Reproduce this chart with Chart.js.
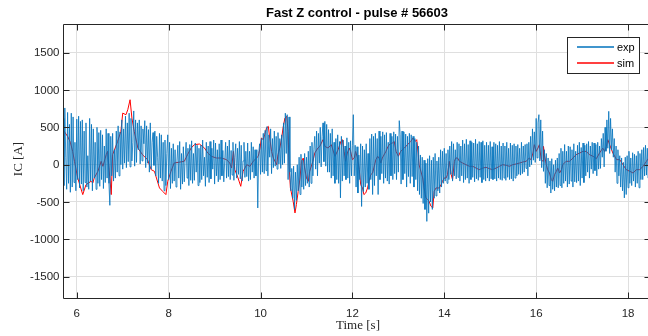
<!DOCTYPE html>
<html>
<head>
<meta charset="utf-8">
<script src="https://cdn.jsdelivr.net/npm/chart.js@4.4.1/dist/chart.umd.min.js"></script>
<style>
  html, body { margin: 0; padding: 0; background: #fff; overflow: hidden; width: 648px; height: 336px; }
  canvas { display: block; }
</style>
</head>
<body>
<canvas id="c" width="651" height="336"></canvas>
<script>
// Texts
const chartTitle = 'Fast Z control - pulse # 56603';
const xAxisTitle = 'Time [s]';
const yAxisTitle = 'IC [A]';
const seriesNames = ['exp', 'sim'];

// Tick values
const xTicks = [6, 8, 10, 12, 14, 16, 18];
const yTicks = [-1500, -1000, -500, 0, 500, 1000, 1500];

// Measured coil current, sampled every 20 ms from t = 5.70 s (one row = 0.2 s)
const expStart = 5.70;
const expStep = 0.02;
const expValues = [
  620, -280, 760, 100, -330, 700, -250, 540, -370, 690,
  -300, 640, -240, 300, -350, 610, -200, 650, -310, 580,
  -260, 600, -350, 450, -240, 560, -300, 120, -330, 620,
  -220, 540, -350, 480, -180, 300, -330, 500, -250, 430,
  -290, 460, -200, 400, -320, 250, -240, 480, -180, 420,
  -250, -545, 380, -150, 420, -220, 200, -180, 450, -100,
  520, -150, 440, 0, 600, -60, 480, 20, 650, -40,
  560, 40, 690, -30, 620, 50, 300, 720, -20, 600,
  30, 560, 200, 600, 10, 520, 50, 480, 280, 590,
  -40, 520, 20, 470, -100, 560, -60, 300, 430, -10,
  450, -150, 380, 100, -250, 420, -180, 400, -220, 300,
  -350, 330, -280, 150, 400, -200, 300, -320, 220, -250,
  280, -220, 200, -300, 50, 260, -180, 310, -330, 150,
  -260, 240, -230, 100, 300, -180, 220, -280, 270, -210,
  320, -250, 150, -210, 290, -100, 260, -280, 220, -240,
  260, -200, 330, -150, 100, -290, 300, -170, 250, -240,
  310, -190, 220, -60, 330, -260, 290, -150, 200, -230,
  280, -200, 330, -150, 190, -230, 50, 300, -180, 250,
  -160, 330, -200, 190, -140, 300, -210, 100, 280, -180,
  220, -130, 310, -190, 260, -220, 50, 300, -170, 180,
  -160, 290, -220, 180, -200, 300, -100, 240, -180, 200,
  -150, 200, -580, 150, 280, -130, 350, -100, 420, -120,
  460, -80, 510, -150, 400, 100, 480, -120, 350, -40,
  450, -20, 380, -60, 430, 10, 350, -50, 400, 0,
  560, 20, 690, 150, 670, -200, 640, -100, -350, -50,
  -450, -20, -600, -100, -480, 0, -350, 100, -400, 140,
  -300, 60, -330, 150, -280, 100, -250, 180, -300, 250,
  -250, 300, -150, 200, 380, -60, 450, -150, 420, 20,
  500, -30, 380, 560, 40, 580, -20, 540, -100, 470,
  -100, 420, -180, 480, -150, 300, -250, 350, -200, 400,
  -250, 310, -445, 380, -220, 330, -150, 250, -200, 360,
  -180, 300, -250, 320, -150, 260, 670, -150, 260, -300,
  240, -380, 130, -200, 280, -560, 250, -360, 200, -300,
  280, -250, 150, -330, 350, -200, 410, -400, 380, -280,
  420, -150, 350, -400, 450, -200, 380, -120, 440, -250,
  400, -180, 430, -220, 300, -260, 420, -150, 380, -200,
  440, -120, 410, -200, 380, -100, 590, 400, -260, 450,
  -200, 440, -120, 410, -300, 380, -160, 420, -250, 400,
  -160, 380, -300, 350, -200, 300, -350, 250, -400, 130,
  -450, 100, -520, 60, -600, 20, -760, 80, -650, 120,
  -500, 60, -600, 100, -450, 150, -420, 50, -350, 100,
  -380, 200, -300, 180, -250, 220, -220, 150, -250, 200,
  -200, 250, -130, 310, -220, 280, -150, 200, -190, 300,
  -170, 280, -220, 250, -150, 330, -240, 280, -200, 340,
  -180, 270, -250, 320, -200, 300, -170, 290, -230, 340,
  -190, 280, -210, 310, -170, 300, -240, 320, -200, 260,
  -220, 300, -180, 260, -220, 310, -190, 240, -200, 300,
  -190, 280, -220, 260, -180, 310, -200, 250, -210, 290,
  -180, 250, -210, 300, -170, 220, -200, 290, -190, 260,
  -220, 280, -180, 250, -150, 270, -130, 220, -140, 300,
  -120, 250, -100, 270, -50, 280, -150, 300, -30, 380,
  0, 480, 60, 440, 30, 620, 90, 560, 670, 50,
  600, -40, 450, -90, 200, -250, 150, -310, 90, -280,
  50, -380, 80, -330, 0, -350, 60, -300, 90, -310,
  150, -280, 220, -310, 180, -250, 270, -220, 180, -300,
  250, -260, 240, -220, 200, -300, 280, -230, 180, -240,
  260, -220, 300, -280, 230, -180, 290, -240, 260, -150,
  280, -100, 310, -180, 250, -60, 300, -120, 290, -80,
  270, -150, 300, -60, 250, -50, 350, 100, 420, -30,
  500, 180, 600, 220, 715, 150, 620, 200, 480, 100,
  350, -100, 250, -250, 200, -150, 120, -300, 90, -350,
  30, -445, 100, -400, 120, -310, 180, -250, 90, -280,
  160, -220, 140, -300, 120, -250, 180, -310, 150, -200,
  200, -200, 230, -150, 260, -140, 220, -180, 250, -160
];

// Simulated coil current
const simTime = [
  5.70, 5.80, 5.86, 5.91, 5.95, 6.02, 6.13, 6.20, 6.31, 6.35, 6.38, 6.46, 6.53, 6.57, 6.64, 6.67, 6.75, 6.78, 6.89, 6.96,
  7.00, 7.07, 7.11, 7.16, 7.20, 7.25, 7.33, 7.43, 7.54, 7.62, 7.69, 7.80, 7.87, 7.94, 7.98, 8.05, 8.12, 8.34, 8.41, 8.49,
  8.56, 8.67, 8.78, 8.85, 8.93, 9.04, 9.15, 9.26, 9.33, 9.37, 9.41, 9.44, 9.51, 9.57, 9.62, 9.70, 9.77, 9.84, 9.95, 9.99,
  10.02, 10.06, 10.09, 10.13, 10.17, 10.20, 10.24, 10.28, 10.35, 10.38, 10.42, 10.46, 10.49, 10.53, 10.57, 10.60, 10.62, 10.65, 10.71, 10.75,
  10.78, 10.82, 10.86, 10.89, 10.93, 10.96, 11.00, 11.04, 11.07, 11.14, 11.18, 11.25, 11.29, 11.36, 11.40, 11.47, 11.54, 11.62, 11.69, 11.75,
  11.78, 11.82, 11.85, 11.89, 11.93, 11.96, 12.00, 12.04, 12.07, 12.11, 12.15, 12.18, 12.22, 12.25, 12.29, 12.33, 12.36, 12.40, 12.44, 12.51,
  12.55, 12.58, 12.62, 12.65, 12.73, 12.76, 12.80, 12.87, 12.91, 12.95, 13.00, 13.05, 13.13, 13.20, 13.27, 13.32, 13.37, 13.40, 13.43, 13.45,
  13.53, 13.56, 13.60, 13.64, 13.67, 13.71, 13.75, 13.78, 13.82, 13.89, 13.93, 13.96, 14.00, 14.04, 14.07, 14.11, 14.15, 14.18, 14.22, 14.25,
  14.29, 14.33, 14.40, 14.47, 14.55, 14.62, 14.69, 14.76, 14.84, 14.91, 14.98, 15.05, 15.13, 15.20, 15.27, 15.35, 15.42, 15.49, 15.56, 15.64,
  15.71, 15.78, 15.82, 15.85, 15.89, 15.93, 15.96, 16.00, 16.04, 16.07, 16.11, 16.15, 16.16, 16.18, 16.22, 16.25, 16.29, 16.33, 16.36, 16.40,
  16.44, 16.47, 16.51, 16.55, 16.58, 16.65, 16.73, 16.80, 16.87, 16.95, 17.02, 17.09, 17.16, 17.24, 17.31, 17.38, 17.45, 17.49, 17.53, 17.56,
  17.60, 17.64, 17.67, 17.75, 17.82, 17.89, 17.96, 18.04, 18.11, 18.18, 18.25, 18.33, 18.40, 18.46
];
const simValue = [
  468, 380, 300, 178, 45, -178, -401, -268, -223, -245, -178, -89, 45, -22, 134, 178, -401, 134, 312, 446,
  691, 669, 736, 870, 624, 446, 223, 134, 67, -67, -89, -312, -357, -401, -223, -89, 22, 45, 134, 223,
  268, 277, 223, 156, 112, 89, 89, 67, 22, -45, 178, -67, -178, -290, -89, 0, -22, 45, 112, 223,
  357, 335, 401, 491, 513, 357, 178, 89, 0, 134, 223, 357, 491, 624, 647, 446, 0, -312, -491, -647,
  -535, -357, -178, 45, 89, -45, -178, -223, -89, 45, 156, 223, 245, 335, 245, 223, 268, 112, 201, 312,
  335, 178, 45, 156, 223, 178, 67, 89, 178, 89, -67, -268, -312, -401, -379, -312, -223, -134, -112, 67,
  112, 89, 22, 89, 178, 223, 268, 290, 312, 178, 112, 178, 223, 268, 312, 357, 312, 335, 156, 0,
  -178, -312, -446, -468, -491, -557, -580, -357, -312, -312, -268, -223, -178, -178, -134, 45, -134, -201, 45, 89,
  89, 45, 22, 0, -22, -22, -45, -67, -45, -36, -53, -67, -45, -22, 0, -9, -22, 0, 9, 22,
  36, 45, 67, 89, 67, 156, 268, 178, 223, 268, 67, 45, 245, 134, 0, -67, -112, -201, -223, -134,
  -89, -45, -112, -67, 0, 45, 45, 89, 134, 156, 178, 178, 134, 112, 80, 156, 223, 178, 245, 335,
  268, 201, 156, 67, 67, 0, -67, -89, -112, -67, -67, -22, 45, 100
];

const expPoints = expValues.map((v, i) => ({ x: expStart + i * expStep, y: v }));
const simPoints = simTime.map((t, i) => ({ x: t, y: simValue[i] }));

const axisColor = '#262626';
const gridColor = '#dfdfdf';
const expColor = '#0072bd';
const simColor = '#ff0000';
const tickFont = '11.5px "Liberation Sans", Arial, sans-serif';

// Box, inward ticks, tick labels, titles and legend drawn over the plot
const framePlugin = {
  id: 'frame',
  afterDraw(chart) {
    const { ctx, chartArea: a, scales: { x, y } } = chart;
    const L = Math.round(a.left) + 0.5;
    const R = Math.round(a.right) - 0.5;
    const T = Math.round(a.top) + 0.5;
    const B = Math.round(a.bottom) - 0.5;
    ctx.save();
    ctx.strokeStyle = axisColor;
    ctx.lineWidth = 1;
    ctx.beginPath();
    ctx.rect(L, T, R - L, B - T);
    xTicks.forEach(v => {
      const px = Math.round(x.getPixelForValue(v)) + 0.5;
      ctx.moveTo(px, B); ctx.lineTo(px, B - 6);
      ctx.moveTo(px, T); ctx.lineTo(px, T + 6);
    });
    yTicks.forEach(v => {
      const py = Math.round(y.getPixelForValue(v)) + 0.5;
      ctx.moveTo(L, py); ctx.lineTo(L + 6, py);
      ctx.moveTo(R, py); ctx.lineTo(R - 6, py);
    });
    ctx.stroke();

    // tick labels
    ctx.fillStyle = axisColor;
    ctx.font = tickFont;
    ctx.textBaseline = 'middle';
    ctx.textAlign = 'center';
    xTicks.forEach(v => ctx.fillText(String(v), x.getPixelForValue(v), 313.5));
    ctx.textAlign = 'right';
    yTicks.forEach(v => ctx.fillText(String(v), L - 4, y.getPixelForValue(v) + 0.5));

    // chart title
    ctx.fillStyle = '#000';
    ctx.font = 'bold 13px "Liberation Sans", Arial, sans-serif';
    ctx.textAlign = 'center';
    ctx.fillText(chartTitle, 357, 13);

    // axis titles
    ctx.fillStyle = axisColor;
    ctx.font = '13px "Liberation Serif", "Times New Roman", serif';
    ctx.fillText(xAxisTitle, 358, 326);
    ctx.save();
    ctx.translate(19, 159);
    ctx.rotate(-Math.PI / 2);
    ctx.fillText(yAxisTitle, 0, 0);
    ctx.restore();

    // legend
    const lx = 567.5, ly = 37.5, lw = 72, lh = 36;
    ctx.fillStyle = '#fff';
    ctx.fillRect(lx, ly, lw, lh);
    ctx.strokeStyle = axisColor;
    ctx.lineWidth = 1;
    ctx.strokeRect(lx, ly, lw, lh);
    ctx.font = '11px "Liberation Sans", Arial, sans-serif';
    ctx.textAlign = 'left';
    const entries = [
      { name: seriesNames[0], color: expColor, yy: 47 },
      { name: seriesNames[1], color: simColor, yy: 63 }
    ];
    entries.forEach(e => {
      ctx.beginPath();
      ctx.strokeStyle = e.color;
      ctx.lineWidth = 1.5;
      ctx.moveTo(577, e.yy);
      ctx.lineTo(614, e.yy);
      ctx.stroke();
      ctx.fillStyle = '#000';
      ctx.fillText(e.name, 617, e.yy + 0.5);
    });
    ctx.restore();
  }
};

new Chart(document.getElementById('c'), {
  type: 'line',
  data: {
    datasets: [
      { label: seriesNames[0], data: expPoints, borderColor: expColor, borderWidth: 0.8, pointRadius: 0, tension: 0, fill: false },
      { label: seriesNames[1], data: simPoints, borderColor: simColor, borderWidth: 1, pointRadius: 0, tension: 0, fill: false }
    ]
  },
  options: {
    responsive: false,
    animation: false,
    devicePixelRatio: 1,
    events: [],
    layout: { padding: { top: 24, left: 0, right: 0, bottom: 0 } },
    plugins: { legend: { display: false }, title: { display: false }, tooltip: { enabled: false } },
    scales: {
      x: {
        type: 'linear',
        min: 5.7,
        max: 18.5,
        afterBuildTicks: s => { s.ticks = xTicks.map(v => ({ value: v })); },
        afterFit: s => { s.height = 37; },
        grid: { color: gridColor, drawTicks: false },
        border: { display: false },
        ticks: { display: false }
      },
      y: {
        type: 'linear',
        min: -1800,
        max: 1885,
        afterBuildTicks: s => { s.ticks = yTicks.map(v => ({ value: v })); },
        afterFit: s => { s.width = 63; },
        grid: { color: gridColor, drawTicks: false },
        border: { display: false },
        ticks: { display: false }
      }
    }
  },
  plugins: [framePlugin]
});
</script>
</body>
</html>
